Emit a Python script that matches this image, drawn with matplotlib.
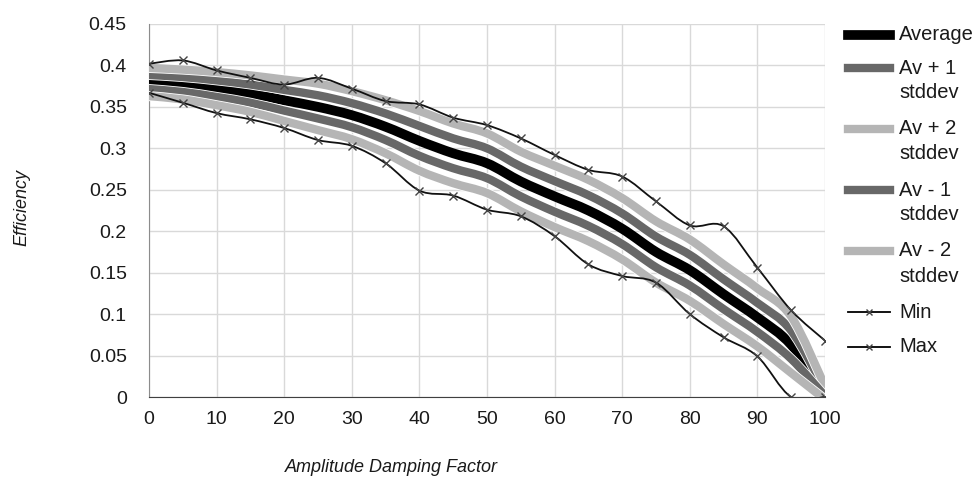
import matplotlib
matplotlib.use("Agg")
import matplotlib.pyplot as plt
import matplotlib.patheffects as pe
from matplotlib.path import Path
from matplotlib.patches import PathPatch
from matplotlib.lines import Line2D
import numpy as np

plt.rcParams['font.family'] = ['Liberation Sans', 'DejaVu Sans']

# damping factor (%)
damping = [0, 5, 10, 15, 20, 25, 30, 35, 40, 45, 50, 55, 60, 65, 70, 75, 80, 85, 90, 95, 100]

average = [0.380, 0.377, 0.372, 0.366, 0.358, 0.350, 0.340, 0.326, 0.309, 0.294, 0.282,
           0.260, 0.242, 0.225, 0.203, 0.175, 0.153, 0.124, 0.096, 0.063, 0.005]
av_plus1 = [0.3885, 0.386, 0.382, 0.377, 0.3705, 0.364, 0.3545, 0.342, 0.327, 0.312, 0.300,
            0.278, 0.2605, 0.2435, 0.2215, 0.1935, 0.1715, 0.142, 0.1135, 0.080, 0.009]
av_plus2 = [0.397, 0.395, 0.392, 0.388, 0.383, 0.378, 0.369, 0.358, 0.345, 0.330, 0.318,
            0.296, 0.279, 0.262, 0.240, 0.212, 0.190, 0.160, 0.131, 0.097, 0.013]
av_minus1 = [0.3715, 0.368, 0.362, 0.355, 0.3455, 0.336, 0.3255, 0.310, 0.291, 0.276, 0.264,
             0.242, 0.2235, 0.2065, 0.1845, 0.1565, 0.1345, 0.106, 0.0785, 0.046, 0.001]
av_minus2 = [0.363, 0.359, 0.352, 0.344, 0.333, 0.322, 0.311, 0.294, 0.273, 0.258, 0.246,
             0.224, 0.205, 0.188, 0.166, 0.138, 0.116, 0.088, 0.061, 0.029, -0.003]
eff_min = [0.367, 0.355, 0.3425, 0.335, 0.3245, 0.310, 0.303, 0.282, 0.249, 0.243, 0.226,
           0.218, 0.194, 0.160, 0.146, 0.138, 0.100, 0.072, 0.049, 0.0, 0.0]
eff_max = [0.402, 0.406, 0.394, 0.385, 0.377, 0.385, 0.372, 0.357, 0.353, 0.337, 0.328,
           0.312, 0.292, 0.274, 0.266, 0.236, 0.207, 0.206, 0.156, 0.1045, 0.068]

BLACK = '#000000'
DARK = '#686868'
LIGHT = '#b5b5b5'


def smooth_path(x, y):
    # excel style smoothed line: cubic bezier through the points
    pts = np.column_stack([x, y]).astype(float)
    n = len(pts)
    verts = [pts[0]]
    codes = [Path.MOVETO]
    for i in range(n - 1):
        p0 = pts[i - 1] if i > 0 else pts[i]
        p1 = pts[i]
        p2 = pts[i + 1]
        p3 = pts[i + 2] if i + 2 < n else pts[i + 1]
        verts += [p1 + (p2 - p0) / 6, p2 - (p3 - p1) / 6, p2]
        codes += [Path.CURVE4] * 3
    return Path(verts, codes)


W, H = 978, 484
fig = plt.figure(figsize=(W / 100, H / 100), dpi=100)
ax = fig.add_axes([149 / W, 1 - 397 / H, (825 - 149) / W, (397 - 24) / H])

ax.set_xlim(0, 100)
ax.set_ylim(0, 0.45)
ax.set_xticks(range(0, 101, 10))
ax.set_yticks(np.arange(0, 0.451, 0.05))
ax.set_yticklabels(['0', '0.05', '0.1', '0.15', '0.2', '0.25', '0.3', '0.35', '0.4', '0.45'])
ax.grid(True, color='#d9d9d9', lw=1)
ax.set_axisbelow(True)
for s in ['top', 'right']:
    ax.spines[s].set_visible(False)
ax.spines['left'].set_color('#8c8c8c')
ax.spines['bottom'].set_color('#404040')
ax.tick_params(length=0, labelsize=14, colors='#1a1a1a')
ax.tick_params(axis='y', pad=16)
ax.tick_params(axis='x', pad=10)

bands = [
    (average, BLACK, 7),
    (av_plus1, DARK, 6),
    (av_plus2, LIGHT, 6),
    (av_minus1, DARK, 6),
    (av_minus2, LIGHT, 6),
]
z = 3
for vals, col, lw in bands:
    patch = PathPatch(smooth_path(damping, vals), fill=False, edgecolor=col, lw=lw,
                      capstyle='round', joinstyle='round', zorder=z)
    if col != BLACK:
        patch.set_path_effects([pe.Stroke(linewidth=lw + 1.2, foreground='white'), pe.Normal()])
    ax.add_patch(patch)
    z += 1

for vals in [eff_min, eff_max]:
    ax.add_patch(PathPatch(smooth_path(damping, vals), fill=False, edgecolor='#111111',
                           lw=1.3, zorder=z))
    ax.plot(damping, vals, ls='none', marker='x', ms=6, mew=1, color='#444444', zorder=z + 1)
    z += 2

# axis titles
fig.text(391 / W, 1 - 468 / H, 'Amplitude Damping Factor', ha='center', va='center',
         fontsize=13, style='italic', color='#1a1a1a')
fig.text(22 / W, 1 - 208 / H, 'Efficiency', ha='center', va='center', rotation=90,
         fontsize=13, style='italic', color='#1a1a1a')

# legend drawn by hand so the swatch sits on the first text line
legend_rows = [
    ('Average', None, BLACK, 7, False, 35),
    ('Av + 1', 'stddev', DARK, 6, False, 68),
    ('Av + 2', 'stddev', LIGHT, 6, False, 129),
    ('Av - 1', 'stddev', DARK, 6, False, 190),
    ('Av - 2', 'stddev', LIGHT, 6, False, 251),
    ('Min', None, BLACK, 1.3, True, 312),
    ('Max', None, BLACK, 1.3, True, 347),
]
for lab, lab2, col, lw, mk, ypx in legend_rows:
    yf = 1 - ypx / H
    fig.add_artist(Line2D([848 / W, 890 / W], [yf, yf], color=col, lw=lw,
                          transform=fig.transFigure))
    if mk:
        fig.add_artist(Line2D([869 / W], [yf], marker='x', ms=5, mew=1, color='#444444',
                              transform=fig.transFigure))
    fig.text(899 / W, yf, lab, va='center', ha='left', fontsize=14.5, color='#1a1a1a')
    if lab2:
        fig.text(899 / W, yf - 25 / H, lab2, va='center', ha='left', fontsize=14.5,
                 color='#1a1a1a')

fig.savefig('out.png', dpi=100)
